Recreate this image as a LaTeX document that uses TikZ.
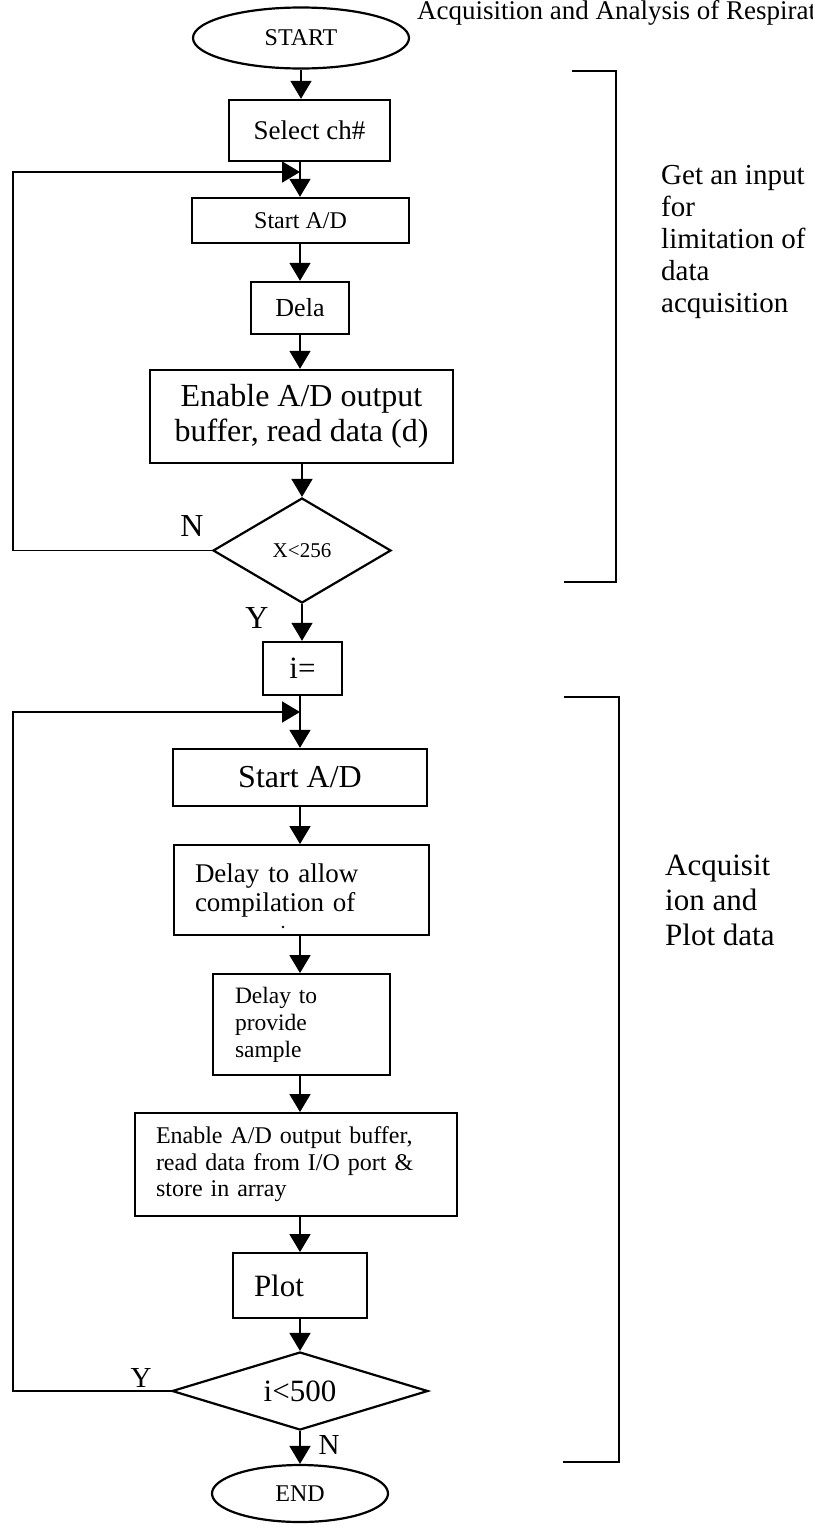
\documentclass[tikz,border=0pt]{standalone}
\usepackage{fontspec}
\setmainfont{Liberation Serif}
\usetikzlibrary{arrows.meta,shapes.geometric}
\newcommand{\fsz}[2]{\fontsize{#1}{#2}\selectfont}

\begin{document}
\begin{tikzpicture}[x=1pt,y=-1pt,
  box/.style={draw,rectangle,line width=2.4pt,inner sep=0pt},
  thinbox/.style={draw,rectangle,line width=1.9pt,inner sep=0pt},
  term/.style={draw,ellipse,line width=2.2pt,inner sep=0pt},
  decision/.style={draw,diamond,line width=2.2pt,inner sep=0pt},
  arr/.style={line width=1.7pt,-{Triangle[width=21pt,length=18pt]}},
  brace/.style={line width=1.7pt},
  tag/.style={inner sep=0pt}]

\useasboundingbox (0,0) rectangle (813,1526);

% running head
\node[tag,anchor=base west,font=\fsz{27}{31}] (title) at (417,19) {Acquisition and Analysis of Respirat};

% first stage: input limit
\node[term,minimum width=216pt,minimum height=61pt,font=\fsz{24}{28}] (start) at (301,38) {START};
\node[box,minimum width=161pt,minimum height=61pt,font=\fsz{27}{31}] (sel) at (309.5,130.5) {Select ch\#};
\node[box,minimum width=217pt,minimum height=45pt,font=\fsz{24}{28}] (sad1) at (300.5,220.5) {Start A/D};
\node[box,minimum width=98pt,minimum height=52pt,font=\fsz{26}{30}] (dela) at (300,308) {Dela};
\node[box,minimum width=303pt,minimum height=93pt,align=center,font=\fsz{32}{35}] (rd1) at (301.5,416.5) {Enable A/D output\\buffer, read data (d)};
\node[decision,minimum width=178pt,minimum height=105pt,aspect=1.7,font=\fsz{21}{24}] (d1) at (302,550.5) {X<256};
\node[box,minimum width=79pt,minimum height=53pt,font=\fsz{31}{35}] (ieq) at (302.5,668.5) {i=};

% second stage: acquire and plot
\node[box,minimum width=254pt,minimum height=57pt,font=\fsz{32}{36}] (sad2) at (300,777.5) {Start A/D};
\node[thinbox,minimum width=255pt,minimum height=90pt,text width=213pt,inner xsep=21pt,align=left,font=\fsz{27}{29}] (dl1) at (301.5,890) {Delay to allow\\compilation of};
\node[thinbox,minimum width=177pt,minimum height=101pt,text width=133pt,inner xsep=22pt,align=left,font=\fsz{23.5}{27}] (dl2) at (301.5,1024.5) {Delay to\\provide\\sample};
\node[thinbox,minimum width=322pt,minimum height=103pt,text width=280pt,inner xsep=21pt,align=left,font=\fsz{24}{26.5}] (rd2) at (296,1164.5) {Enable A/D output buffer,\\read data from I/O port \&\\store in array};
\node[thinbox,minimum width=134pt,minimum height=65pt,text width=92pt,inner xsep=21pt,align=left,font=\fsz{31}{35}] (plot) at (300,1285.5) {Plot};
\node[decision,minimum width=256pt,minimum height=78pt,aspect=3.3,font=\fsz{31}{35}] (d2) at (300,1391) {i<500};
\node[term,minimum width=176pt,minimum height=57pt,font=\fsz{24}{28}] (end) at (300,1493.5) {END};

% clipped remnant of a third line
\fill (283,927) circle (1.3pt);

% branch labels
\node[tag,font=\fsz{32}{36}] (n1) at (192,526) {N};
\node[tag,font=\fsz{32}{36}] (y1) at (257,618) {Y};
\node[tag,font=\fsz{29}{33}] (y2) at (141,1378) {Y};
\node[tag,font=\fsz{29}{33}] (n2) at (329,1445) {N};

% main flow
\coordinate (sp) at (300,0);
\draw[arr] (start.south) -- (start.south |- sel.north);
\draw[arr] (sel.south -| sp) -- (sad1.north -| sp);
\draw[arr] (sad1.south -| sp) -- (dela.north -| sp);
\draw[arr] (dela.south -| sp) -- (rd1.north -| sp);
\draw[arr] (rd1.south -| d1) -- (d1.north);
\draw[arr] (d1.south) -- (d1.south |- ieq.north);
\draw[arr] (ieq.south -| sp) -- (sad2.north -| sp);
\draw[arr] (sad2.south -| sp) -- (dl1.north -| sp);
\draw[arr] (dl1.south -| sp) -- (dl2.north -| sp);
\draw[arr] (dl2.south -| sp) -- (rd2.north -| sp);
\draw[arr] (rd2.south -| sp) -- (plot.north -| sp);
\draw[arr] (plot.south) -- (d2.north);
\draw[arr] (d2.south) -- (end.north);

% loop-backs
\coordinate (l1) at (13,550.5);
\coordinate (j1) at (300,172);
\draw[arr] (d1.west) -- (l1) |- (j1);
\coordinate (l2) at (13,1391);
\coordinate (j2) at (300,712);
\draw[arr] (d2.west) -- (l2) |- (j2);

% stage brackets and their notes
\draw[brace] (572,71) -- (616,71) -- (616,582) -- (564,582);
\draw[brace] (564,697) -- (619,697) -- (619,1462) -- (563,1462);
\node[tag,anchor=north west,align=left,font=\fsz{29}{32}] (g1) at (661,165) {Get an input\\for\\limitation of\\data\\acquisition};
\node[tag,anchor=north west,align=left,font=\fsz{31}{35}] (g2) at (665,855) {Acquisit\\ion and\\Plot data};
\end{tikzpicture}
\end{document}
